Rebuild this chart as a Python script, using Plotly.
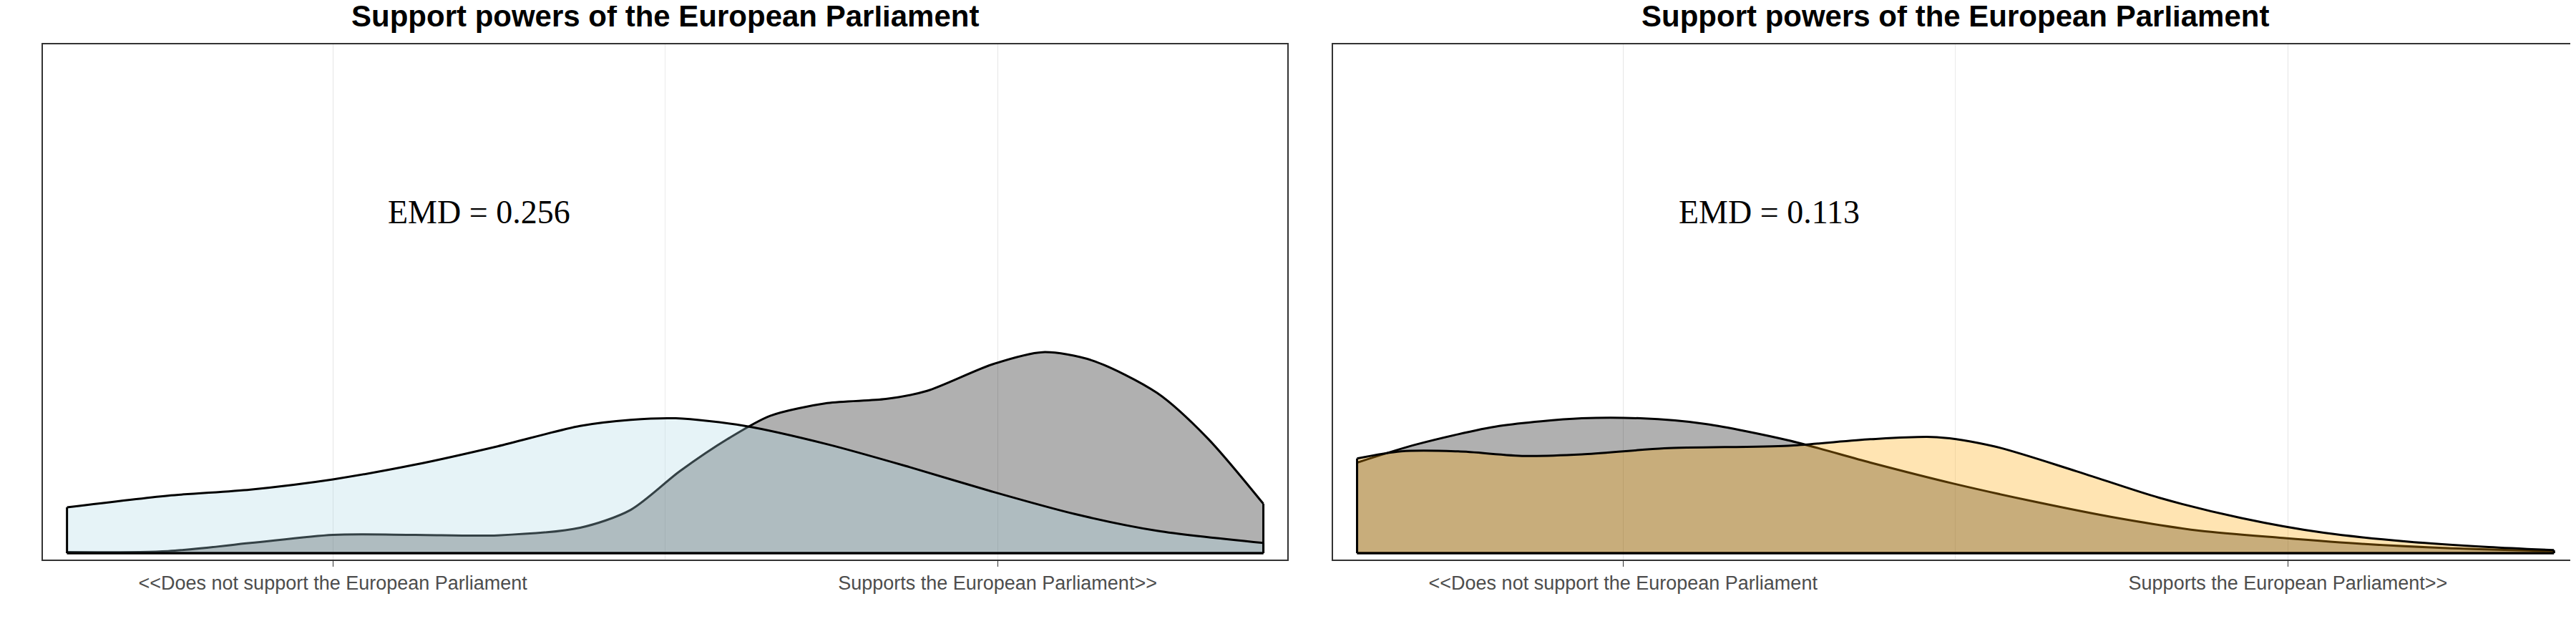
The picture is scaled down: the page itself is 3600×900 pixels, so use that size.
import plotly.graph_objects as go

# Left panel densities
left_blue_x = [0.05, 0.126, 0.188, 0.250, 0.312, 0.374, 0.436, 0.474, 0.508, 0.560, 0.622, 0.684, 0.746, 0.808, 0.870, 0.95]
left_blue_y = [0.090, 0.113, 0.125, 0.145, 0.174, 0.210, 0.250, 0.262, 0.265, 0.250, 0.214, 0.169, 0.121, 0.077, 0.044, 0.020]
left_gray_x = [0.05, 0.126, 0.188, 0.250, 0.312, 0.374, 0.436, 0.474, 0.511, 0.548, 0.579, 0.622, 0.666, 0.697, 0.746, 0.784, 0.821, 0.870, 0.908, 0.95]
left_gray_y = [0.002, 0.004, 0.020, 0.036, 0.036, 0.035, 0.050, 0.085, 0.161, 0.226, 0.270, 0.295, 0.303, 0.319, 0.371, 0.395, 0.379, 0.315, 0.226, 0.097]

# Right panel densities
right_gray_x = [0.05, 0.095, 0.157, 0.219, 0.263, 0.312, 0.374, 0.436, 0.498, 0.560, 0.622, 0.684, 0.746, 0.808, 0.870, 0.95]
right_gray_y = [0.178, 0.214, 0.250, 0.265, 0.265, 0.254, 0.222, 0.178, 0.137, 0.101, 0.069, 0.044, 0.030, 0.018, 0.010, 0.004]
right_orange_x = [0.05, 0.083, 0.126, 0.176, 0.219, 0.281, 0.374, 0.436, 0.486, 0.529, 0.591, 0.653, 0.715, 0.777, 0.839, 0.901, 0.95]
right_orange_y = [0.186, 0.200, 0.200, 0.191, 0.194, 0.206, 0.211, 0.224, 0.228, 0.210, 0.161, 0.109, 0.069, 0.040, 0.023, 0.012, 0.006]

emd_labels = ["EMD = 0.256", "EMD = 0.113"]
tick_vals = [0.25, 0.75]
tick_text = ["<<Does not support the European Parliament", "Supports the European Parliament>>"]
title_text = "Support powers of the European Parliament"

fig = go.Figure()


def density(xs, ys, fill, xa, ya):
    # smooth curve filled down to zero
    fig.add_trace(go.Scatter(x=xs, y=ys, fill="tozeroy", fillcolor=fill, mode="lines",
                             line=dict(color="black", width=3, shape="spline", smoothing=0.8),
                             xaxis=xa, yaxis=ya, showlegend=False, hoverinfo="skip"))
    # straight end edges and baseline
    fig.add_trace(go.Scatter(x=[xs[0], xs[0], None, xs[-1], xs[-1], None, xs[0], xs[-1]],
                             y=[ys[0], 0, None, ys[-1], 0, None, 0, 0], mode="lines",
                             line=dict(color="black", width=3),
                             xaxis=xa, yaxis=ya, showlegend=False, hoverinfo="skip"))


density(left_gray_x, left_gray_y, "rgba(0,0,0,0.31)", "x", "y")
density(left_blue_x, left_blue_y, "rgba(173,216,230,0.3)", "x", "y")
density(right_gray_x, right_gray_y, "rgba(0,0,0,0.31)", "x2", "y2")
density(right_orange_x, right_orange_y, "rgba(255,165,0,0.3)", "x2", "y2")

xaxis_style = dict(range=[0.032, 0.968], tickvals=tick_vals, ticktext=tick_text,
                   showgrid=True, gridcolor="#e5e5e5", gridwidth=1,
                   minor=dict(tickvals=[0.5], showgrid=True, gridcolor="#ebebeb", ticks=""),
                   ticks="outside", ticklen=8, tickcolor="#333333",
                   tickfont=dict(family="Arial, Liberation Sans", size=27, color="#4d4d4d"),
                   showline=True, linecolor="#333333", linewidth=1.5, mirror=True, zeroline=False)
yaxis_style = dict(range=[-0.0126, 1], showticklabels=False, showgrid=False, ticks="",
                   showline=True, linecolor="#333333", linewidth=1.5, mirror=True, zeroline=False)

fig.update_layout(
    width=3600, height=900, margin=dict(l=0, r=0, t=0, b=0),
    plot_bgcolor="white", paper_bgcolor="white",
    xaxis=dict(domain=[0.0145, 0.4975], **xaxis_style),
    xaxis2=dict(domain=[0.5153, 0.9985], **xaxis_style),
    yaxis=dict(domain=[0.14, 0.94], anchor="x", **yaxis_style),
    yaxis2=dict(domain=[0.14, 0.94], anchor="x2", **yaxis_style),
)

for i, (xr, yr) in enumerate([("x", "y"), ("x2", "y2")]):
    fig.add_annotation(x=0.36, y=0.67, xref=xr, yref=yr, text=emd_labels[i], showarrow=False,
                       font=dict(family="Liberation Serif, Times New Roman", size=46, color="black"))
    fig.add_annotation(x=0.5, y=1.0, xref=xr + " domain", yref=yr + " domain", yanchor="bottom",
                       yshift=14, text="<b>" + title_text + "</b>", showarrow=False,
                       font=dict(family="Arial, Liberation Sans", size=42, color="black"))

fig.write_html("out.html")
